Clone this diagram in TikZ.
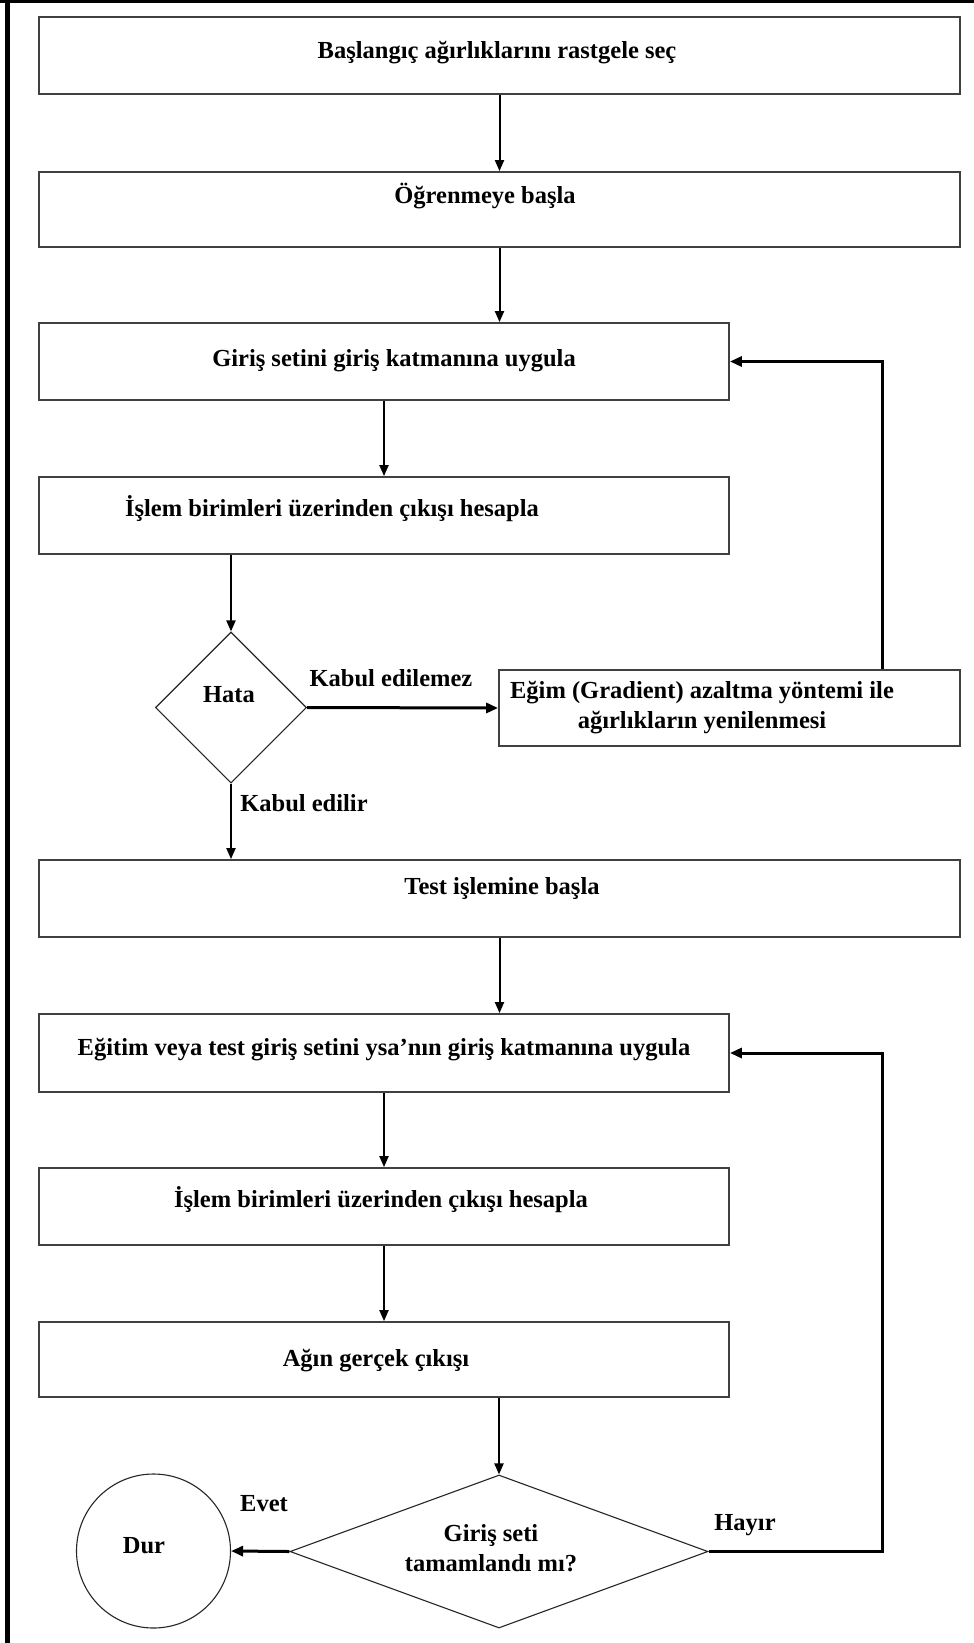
\documentclass[tikz,border=0pt]{standalone}
\usepackage{fontspec}
\setmainfont{Liberation Serif}
\usetikzlibrary{shapes.geometric,arrows.meta}
\begin{document}
\begin{tikzpicture}[x=1pt,y=-1pt,
  font=\fontsize{24.5}{29.5}\selectfont\bfseries,
  box/.style={draw=black!75, line width=1.8pt, rectangle, inner sep=0pt},
  txt/.style={inner sep=0pt, text height=0.75em, text depth=0.09em, align=center},
  flow/.style={line width=2pt, -{Triangle[length=11pt,width=9pt]}},
  heavy/.style={line width=3pt, -{Triangle[length=12pt,width=10pt]}},
  dec/.style={draw=black!85, line width=1.1pt, diamond, inner sep=0pt},
  term/.style={draw=black!85, line width=1.1pt, circle, inner sep=0pt},
]
\useasboundingbox (0,0) rectangle (974,1643);
\fill[white] (0,0) rectangle (974,1643);
% page frame: top and left edges only
\draw[line width=3pt] (0,1.5) -- (974,1.5);
\draw[line width=5pt] (7.5,0) -- (7.5,1643);

% process boxes
\node[box, minimum width=921pt, minimum height=77pt] (b1) at (499.5,55.5) {};
\node[box, minimum width=921pt, minimum height=75pt] (b2) at (499.5,209.5) {};
\node[box, minimum width=690pt, minimum height=77pt] (b3) at (384,361.5) {};
\node[box, minimum width=690pt, minimum height=77pt] (b4) at (384,515.5) {};
\node[box, minimum width=461pt, minimum height=76pt] (b5) at (729.5,708) {};
\node[box, minimum width=921pt, minimum height=77pt] (b6) at (499.5,898.5) {};
\node[box, minimum width=690pt, minimum height=78pt] (b7) at (384,1053) {};
\node[box, minimum width=690pt, minimum height=77pt] (b8) at (384,1206.5) {};
\node[box, minimum width=690pt, minimum height=75pt] (b9) at (384,1359.5) {};

% decisions and terminal
\node[dec, minimum width=151pt, minimum height=151pt] (d1) at (231,707.5) {};
\node[dec, minimum width=418pt, minimum height=153pt] (d2) at (499,1551.5) {};
\node[term, minimum size=154pt] (stop) at (153.5,1551) {};

% texts
\node[txt] (t1) at (497,55) {Başlangıç ağırlıklarını rastgele seç};
\node[txt] (t2) at (485,200) {Öğrenmeye başla};
\node[txt] (t3) at (394,363) {Giriş setini giriş katmanına uygula};
\node[txt] (t4) at (332,513) {İşlem birimleri üzerinden çıkışı hesapla};
\node[txt, text height=, text depth=] (t5) at (702,707.5) {Eğim (Gradient) azaltma yöntemi ile\\ağırlıkların yenilenmesi};
\node[txt] (t6) at (502,891) {Test işlemine başla};
\node[txt] (t7) at (384,1052) {Eğitim veya test giriş setini ysa'nın giriş katmanına uygula};
\node[txt] (t8) at (381,1204) {İşlem birimleri üzerinden çıkışı hesapla};
\node[txt] (t9) at (376,1363) {Ağın gerçek çıkışı};
\node[txt] (th) at (229,699) {Hata};
\node[txt, text height=, text depth=] (tq) at (491,1548) {Giriş seti\\tamamlandı mı?};
\node[txt] (ts) at (144,1550) {Dur};

% branch labels
\node[txt] (l1) at (391,683) {Kabul edilemez};
\node[txt] (l2) at (304,808) {Kabul edilir};
\node[txt] (l3) at (264,1508) {Evet};
\node[txt] (l4) at (745,1527) {Hayır};

% return rail on the right
\coordinate (rail) at (882.5,0);

% connectors
\draw[flow] (b1.south) -- (b2.north);
\draw[flow] (b2.south) -- (b2.south |- b3.north);
\draw[flow] (b3.south) -- (b4.north);
\draw[flow] (b4.south -| d1.north) -- (d1.north);
\draw[heavy] (d1.east) -- (b5.west);
\draw[heavy] (rail |- b5.north) |- (b3.east);
\draw[flow] (d1.south) -- (d1.south |- b6.north);
\draw[flow] (b6.south) -- (b6.south |- b7.north);
\draw[flow] (b7.south) -- (b8.north);
\draw[flow] (b8.south) -- (b9.north);
\draw[flow] (b9.south -| d2.north) -- (d2.north);
\draw[heavy] (d2.west) -- (stop.east);
\draw[heavy] (d2.east) -| (rail |- b7.east) -- (b7.east);
\end{tikzpicture}
\end{document}
